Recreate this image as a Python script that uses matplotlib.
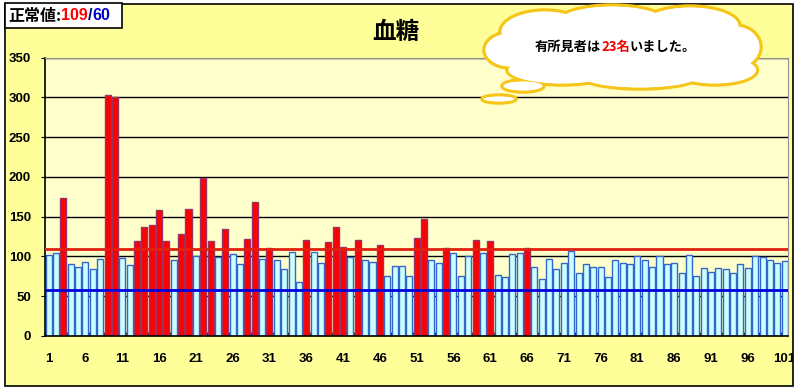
import matplotlib.pyplot as plt
from matplotlib.patches import Rectangle, Ellipse

# blood sugar values for 101 people
values = [
    102, 104, 174, 90, 87, 93, 84, 97, 303, 300,
    98, 89, 120, 137, 139, 158, 120, 95, 128, 160,
    100, 198, 120, 99, 134, 103, 90, 122, 168, 97,
    110, 95, 84, 106, 68, 121, 105, 92, 118, 137,
    112, 99, 121, 96, 93, 114, 75, 88, 88, 76,
    123, 147, 95, 92, 110, 104, 75, 100, 121, 104,
    119, 77, 74, 103, 104, 110, 87, 72, 97, 84,
    92, 107, 79, 91, 87, 87, 74, 95, 92, 91,
    100, 95, 87, 100, 90, 92, 79, 102, 76, 85,
    80, 85, 84, 79, 91, 85, 101, 99, 96, 92, 94,
]
ids = list(range(1, len(values) + 1))
upper_limit = 109
lower_line = 58
xtick_vals = list(range(1, 102, 5))
ytick_vals = [0, 50, 100, 150, 200, 250, 300, 350]

W, H = 799, 390
fig = plt.figure(figsize=(W / 100, H / 100), dpi=100, facecolor='white')
plt.rcParams['font.family'] = ['Liberation Sans', 'Noto Sans CJK JP', 'DejaVu Sans']

# background layer in pixel coords
bg = fig.add_axes([0, 0, 1, 1], zorder=0)
bg.set_xlim(0, W)
bg.set_ylim(H, 0)
bg.axis('off')
frame = Rectangle((5, 4), 788, 382, facecolor='#FFFF99', edgecolor='black', lw=1.2)
bg.add_patch(frame)
bg.text(396, 32, '血糖', ha='center', va='center', fontsize=17,
        family=['Noto Sans CJK JP'], fontweight='bold')

# main chart
ax = fig.add_axes([45 / W, 1 - 336 / H, 743.3 / W, (336 - 57.5) / H], zorder=1)
ax.set_facecolor('#FFFFCC')
colors = ['#FF0000' if v > upper_limit else '#CCFFFF' for v in values]
edges = ['#993366' if v > upper_limit else '#3366CC' for v in values]
ax.bar(ids, values, width=0.82, color=colors, edgecolor=edges, linewidth=1, zorder=2)
ax.axhline(upper_limit, color='#E02010', lw=2, zorder=3)
ax.axhline(lower_line, color='#0000DD', lw=2, zorder=3)

ax.set_xlim(0.5, len(values) + 0.5)
ax.set_ylim(0, 350)
ax.set_yticks(ytick_vals)
ax.yaxis.grid(True, color='black', lw=1)
ax.set_axisbelow(True)
ax.set_xticks(xtick_vals)
ax.set_xticks([i + 0.5 for i in range(len(values))], minor=True)
ax.tick_params(axis='x', which='major', length=0, pad=12, labelsize=9.5)
ax.tick_params(axis='x', which='minor', direction='in', length=3, color='black')
ax.tick_params(axis='y', length=3, pad=7, labelsize=9.5)
for lbl in ax.get_xticklabels() + ax.get_yticklabels():
    lbl.set_fontweight('bold')
    lbl.set_clip_path(frame)
for s in ['left', 'bottom']:
    ax.spines[s].set_color('black')
    ax.spines[s].set_linewidth(1.2)
for s in ['right', 'top']:
    ax.spines[s].set_color('#909090')

# overlay: label box and cloud callout
ov = fig.add_axes([0, 0, 1, 1], zorder=3)
ov.set_xlim(0, W)
ov.set_ylim(H, 0)
ov.axis('off')
ov.patch.set_alpha(0)

ov.add_patch(Rectangle((5, 3), 117, 25, facecolor='white', edgecolor='black', lw=1.2))
jp = ['Noto Sans CJK JP']
t = ov.text(8, 16, '正常値:', fontsize=11.5, fontweight='bold', family=jp, va='center')
t = ov.annotate('109', xy=(1, 0.5), xycoords=t, va='center', fontsize=11.5,
                fontweight='bold', color='#FF0000')
t = ov.annotate('/', xy=(1, 0.5), xycoords=t, va='center', fontsize=11.5,
                fontweight='bold', color='#000080')
ov.annotate('60', xy=(1, 0.5), xycoords=t, va='center', fontsize=11.5,
            fontweight='bold', color='#0000CC')

lobes = [(620, 47, 230, 62), (545, 32, 90, 44), (612, 22, 110, 34), (690, 26, 100, 40),
         (735, 47, 52, 44), (715, 70, 85, 30), (640, 76, 120, 26), (562, 70, 110, 30),
         (510, 50, 52, 36), (523, 86, 42, 12), (499, 99, 34, 8)]
for cx, cy, w, h in lobes:
    ov.add_patch(Ellipse((cx, cy), w, h, facecolor='white', edgecolor='#F5C518', lw=2.5, zorder=1))
for cx, cy, w, h in lobes:
    ov.add_patch(Ellipse((cx, cy), w - 3, h - 3, facecolor='white', edgecolor='none', zorder=2))

t = ov.text(535, 47, '有所見者は', fontsize=9.5, fontweight='bold', family=jp, va='center', zorder=4)
t = ov.annotate('23名', xy=(1, 0.5), xycoords=t, va='center', fontsize=9.5,
                fontweight='bold', family=jp, color='#EE0000', zorder=4)
ov.annotate('いました。', xy=(1, 0.5), xycoords=t, va='center', fontsize=9.5,
            fontweight='bold', family=jp, zorder=4)

fig.savefig('out.png', dpi=100, facecolor='white')
